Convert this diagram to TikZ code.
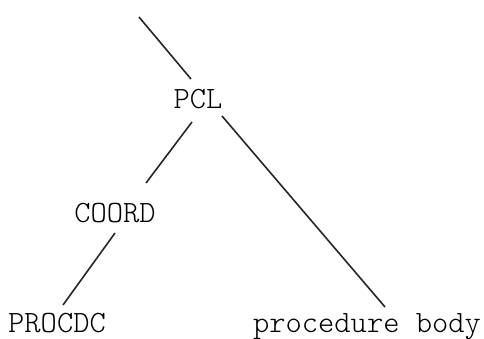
\documentclass[tikz,border=0pt]{standalone}
\usetikzlibrary{calc}
\begin{document}
\begin{tikzpicture}[x=1pt,y=-1pt,
  label/.style={anchor=base,inner sep=0pt,font=\ttfamily\fontseries{l}\fontsize{31}{34}\selectfont},
  branch/.style={line width=1.6pt,black!85}]
\useasboundingbox (0,0) rectangle (484,338);
% tree nodes
\coordinate (up) at (139,17);
\node[label] (pcl) at (198,108) {PCL};
\node[label] (coord) at (115,222) {COORD};
\node[label] (procdc) at (57,332) {PROCDC};
\node[label] (body) at (367,332) {procedure body};
% branches
\draw[branch] (up) -- ($(pcl.base)+(-7,-29)$);
\draw[branch] ($(pcl.base)+(-6,14)$) -- ($(coord.base)+(31,-39)$);
\draw[branch] ($(pcl.base)+(24,8)$) -- ($(body.base)+(18,-25)$);
\draw[branch] ($(coord.base)+(0,11)$) -- ($(procdc.base)+(6,-27)$);
\end{tikzpicture}
\end{document}
